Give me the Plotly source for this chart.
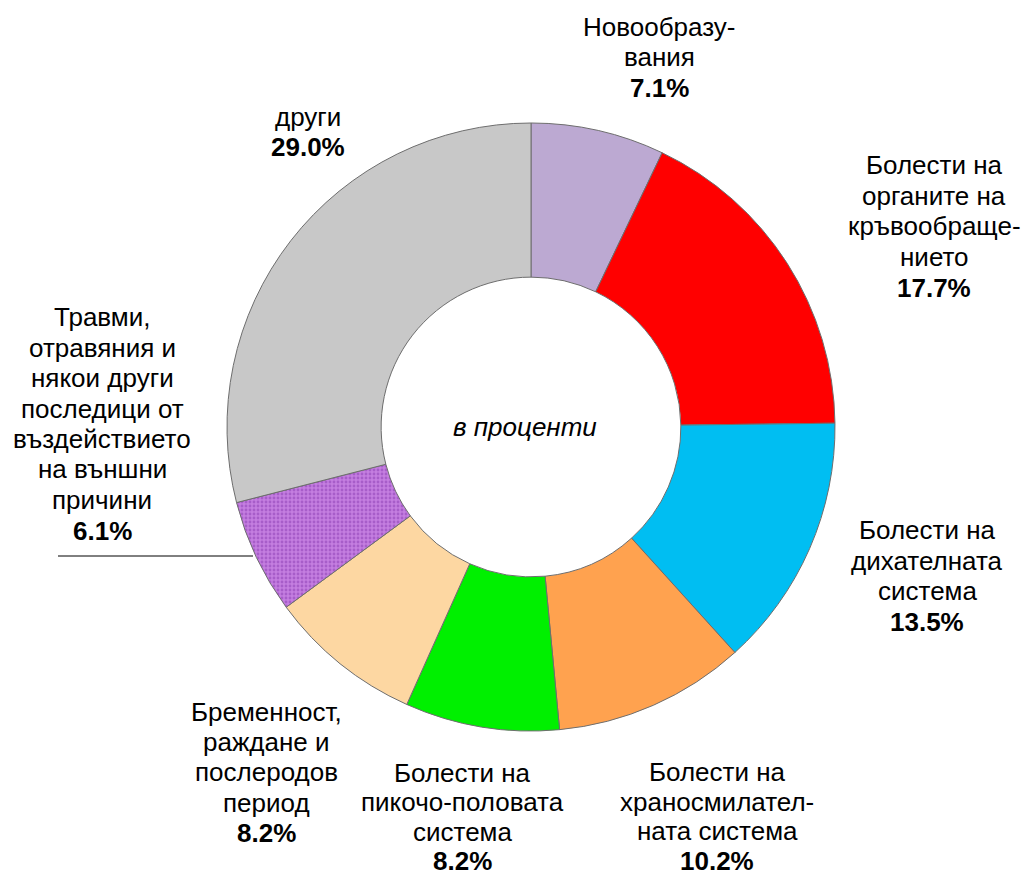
import plotly.graph_objects as go

W, H = 1026, 877

categories = [
    "Новообразувания",
    "Болести на органите на кръвообращението",
    "Болести на дихателната система",
    "Болести на храносмилателната система",
    "Болести на пикочо-половата система",
    "Бременност, раждане и послеродов период",
    "Травми, отравяния и някои други последици от въздействието на външни причини",
    "други",
]
values = [7.1, 17.7, 13.5, 10.2, 8.2, 8.2, 6.1, 29.0]
label_lines = [
    ["Новообразу-", "вания"],
    ["Болести на", "органите на", "кръвообраще-", "нието"],
    ["Болести на", "дихателната", "система"],
    ["Болести на", "храносмилател-", "ната система"],
    ["Болести на", "пикочо-половата", "система"],
    ["Бременност,", "раждане и", "послеродов", "период"],
    ["Травми,", "отравяния и", "някои други", "последици от", "въздействието", "на външни", "причини"],
    ["други"],
]
colors = ["#BCA9D2", "#FF0000", "#00BEF2", "#FFA24F", "#00F000", "#FDD7A2", "#C47EE0", "#C8C8C8"]

# label block: centre x, first line centre y (pixels from top), line step
label_pos = [(659, 27, 30.5), (934, 165, 30.7), (927, 530, 30.7), (717, 772, 29.7),
             (462, 773, 29.3), (266, 712, 30.2), (102, 317, 30.5), (308, 117, 30.0)]

cx, cy, R = 531, 427, 304
FONT = "Liberation Sans, Arial, sans-serif"

fig = go.Figure()
fig.add_trace(go.Pie(
    labels=categories,
    values=values,
    sort=False,
    direction="clockwise",
    rotation=0,
    hole=0.493,
    textinfo="none",
    hoverinfo="label+percent",
    marker=dict(
        colors=colors,
        line=dict(color="#6E6E6E", width=1),
        pattern=dict(
            shape=["", "", "", "", "", "", ".", ""],
            fillmode="overlay",
            fgcolor="#8A3CB2",
            size=4,
            solidity=0.4,
        ),
    ),
    domain=dict(x=[(cx - R) / W, (cx + R) / W], y=[(H - cy - R) / H, (H - cy + R) / H]),
    showlegend=False,
))

annotations = []
for lines, v, (px, py, step) in zip(label_lines, values, label_pos):
    all_lines = [(t, False) for t in lines] + [(f"{v:.1f}%", True)]
    for i, (t, bold) in enumerate(all_lines):
        annotations.append(dict(
            x=px / W, y=(H - (py + i * step)) / H, xref="paper", yref="paper",
            text=f"<b>{t}</b>" if bold else t,
            showarrow=False, xanchor="center", yanchor="middle", align="center",
            font=dict(family=FONT, size=26, color="#000000"),
        ))
annotations.append(dict(
    x=525 / W, y=(H - 427) / H, xref="paper", yref="paper",
    text="<i>в проценти</i>", showarrow=False, xanchor="center", yanchor="middle",
    font=dict(family=FONT, size=26, color="#000000"),
))

fig.update_layout(
    width=W, height=H,
    margin=dict(l=0, r=0, t=0, b=0),
    paper_bgcolor="white", plot_bgcolor="white",
    annotations=annotations,
    shapes=[dict(type="line", xref="paper", yref="paper",
                 x0=58 / W, x1=253 / W, y0=(H - 556) / H, y1=(H - 556) / H,
                 line=dict(color="#000000", width=1))],
)

fig.write_html("out.html", config={"displayModeBar": False},
               post_script="document.body.style.margin='0';")
